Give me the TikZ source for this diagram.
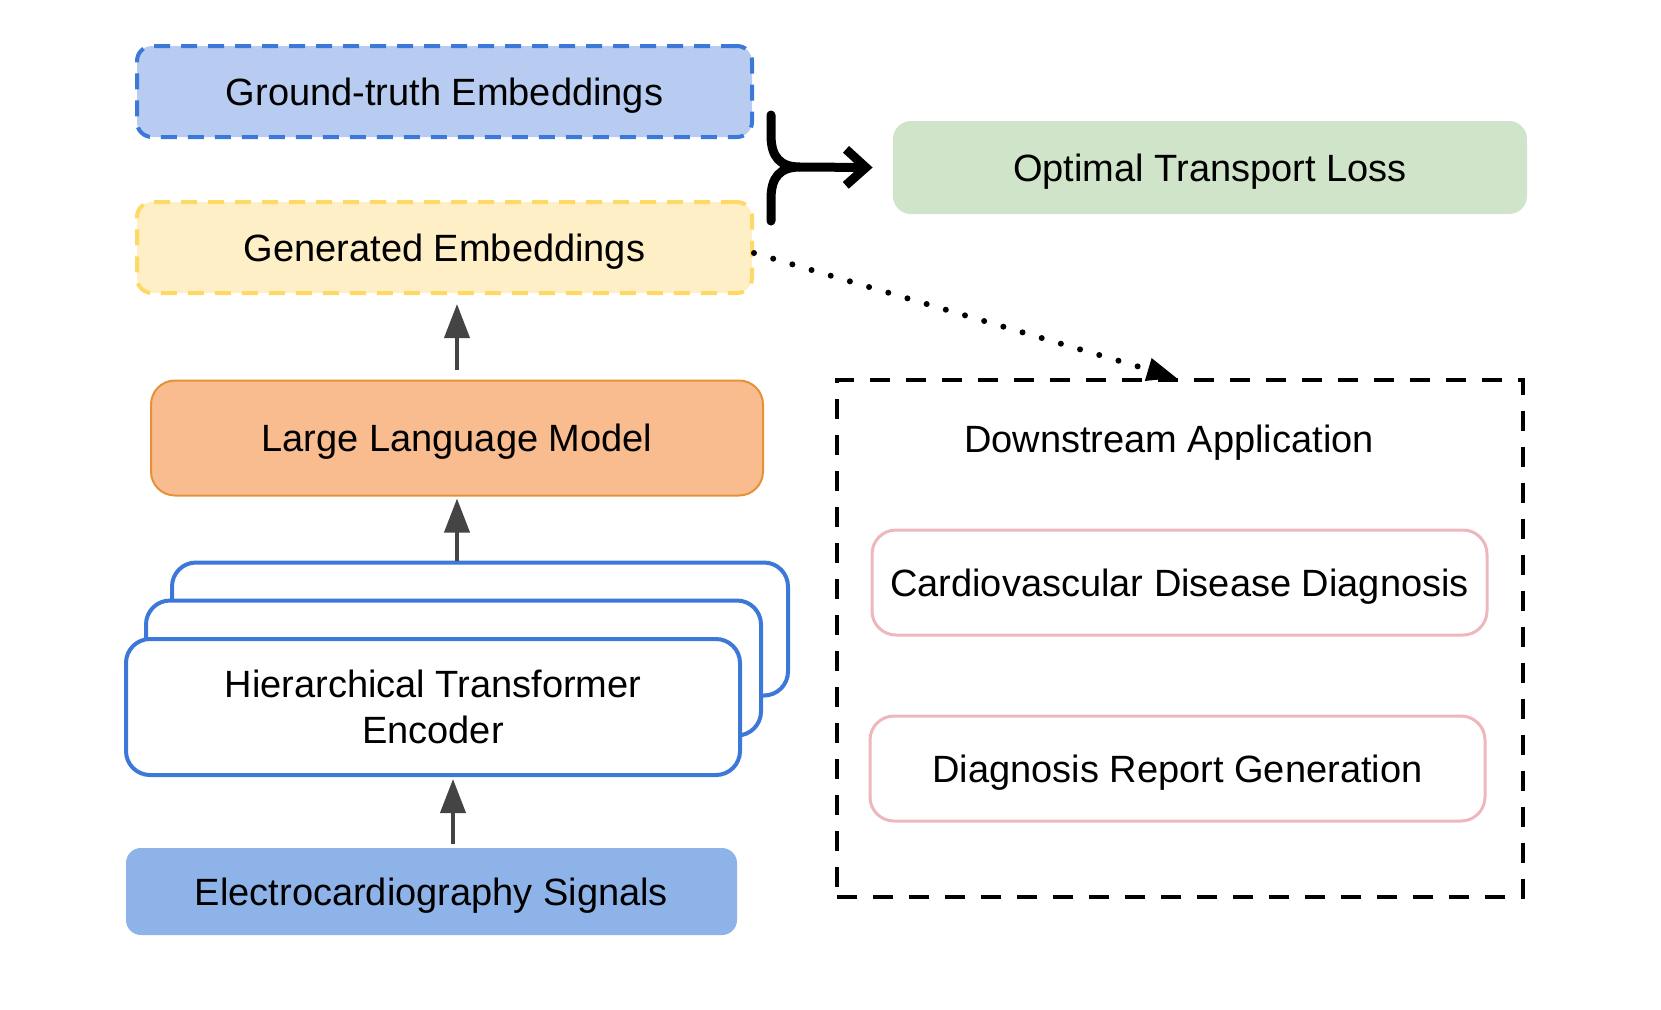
\documentclass[tikz,border=0pt]{standalone}
\usepackage{fontspec}
\setmainfont{Liberation Sans}
\usetikzlibrary{arrows.meta}
\definecolor{gtfill}{HTML}{B7CCF0}
\definecolor{gtdraw}{HTML}{3C78D8}
\definecolor{genfill}{HTML}{FFEFC6}
\definecolor{gendraw}{HTML}{FFD966}
\definecolor{llmfill}{HTML}{F8BC8F}
\definecolor{llmdraw}{HTML}{E69138}
\definecolor{encdraw}{HTML}{3C78D8}
\definecolor{ecgfill}{HTML}{8DB3E9}
\definecolor{optfill}{HTML}{CFE4C8}
\definecolor{pinkdraw}{HTML}{EDB7BB}
\definecolor{arrowgrey}{HTML}{444444}
\begin{document}
\begin{tikzpicture}[x=0.5pt,y=-0.5pt,
  base/.style={inner sep=0pt, align=center, font=\fontsize{19pt}{23pt}\selectfont},
  one/.style={base, text height=13.6pt, text depth=0pt},
  gtbox/.style={one, rounded corners=7.5pt, fill=gtfill, draw=gtdraw, line width=2pt, dash pattern=on 8pt off 5.5pt},
  genbox/.style={one, rounded corners=7.5pt, fill=genfill, draw=gendraw, line width=2pt, dash pattern=on 8pt off 5.5pt},
  llmbox/.style={one, rounded corners=12pt, fill=llmfill, draw=llmdraw, line width=1pt},
  encbox/.style={base, rounded corners=12pt, fill=white, draw=encdraw, line width=2pt},
  ecgbox/.style={one, rounded corners=7.5pt, fill=ecgfill},
  optbox/.style={one, rounded corners=9pt, fill=optfill},
  appbox/.style={one, rounded corners=12pt, draw=pinkdraw, line width=1.5pt},
  dsbox/.style={base, draw=black, line width=2pt, dash pattern=on 10pt off 8pt},
  garrow/.style={draw=arrowgrey, line width=2pt, -{Triangle[length=17pt,width=12.5pt]}},
  dotarrow/.style={draw=black, line width=3pt, line cap=round, dash pattern=on 0pt off 10pt, -{Triangle[length=15pt,width=11pt]}},
  bracket/.style={draw=black, line width=4.5pt, line cap=round},
]
\path[use as bounding box] (0,0) rectangle (1661,1009);

\node[gtbox, minimum width=307.5pt, minimum height=45.5pt] (gt) at (444.5,91.5) {Ground-truth Embeddings};
\node[genbox, minimum width=307.5pt, minimum height=45.5pt] (gen) at (444.5,247.5) {Generated Embeddings};
\node[llmbox, minimum width=306pt, minimum height=57.5pt] (llm) at (457,438) {Large Language Model};
\node[encbox, minimum width=308pt, minimum height=66.5pt] (enc3) at (480,629) {};
\node[encbox, minimum width=307.5pt, minimum height=67.5pt] (enc2) at (453.5,668) {};
\node[encbox, minimum width=307pt, minimum height=68pt] (enc1) at (433,707) {Hierarchical Transformer\\Encoder};
\node[ecgbox, minimum width=305.5pt, minimum height=43.5pt] (ecg) at (431.5,891.5) {Electrocardiography Signals};
\node[optbox, minimum width=317pt, minimum height=46.5pt] (opt) at (1210,167.5) {Optimal Transport Loss};
\node[dsbox, minimum width=343pt, minimum height=258.5pt] (ds) at (1180,638.5) {};
\node[one] (dstext) at (1169,439) {Downstream Application};
\node[appbox, minimum width=307.5pt, minimum height=52.5pt] (cardio) at (1179.5,582.5) {Cardiovascular Disease Diagnosis};
\node[appbox, minimum width=307.5pt, minimum height=52.5pt] (diag) at (1177.5,768.5) {Diagnosis Report Generation};

\draw[garrow, shorten <=5pt, shorten >=4.5pt] (llm.north) -- (llm.north |- gen.south);
\draw[garrow, shorten >=1pt] (llm.south |- enc3.north) -- (llm.south);
\draw[garrow, shorten <=2pt, shorten >=1pt] ([xshift=10.75pt]ecg.north) -- ([xshift=10.75pt]ecg.north |- enc1.south);

\draw[dotarrow] ([yshift=-2.75pt]gen.east) -- ([xshift=-1.5pt]ds.north);

\coordinate (bt) at (771,115);
\coordinate (bb) at (771,221);
\coordinate (bm) at (800,167);
\draw[bracket] (bt) -- (771,135) .. controls (771,157) and (780,167) .. (bm) .. controls (780,167) and (771,177) .. (771,199) -- (bb);
\draw[bracket, -{Straight Barb[length=10pt,width=18pt]}] (bm) -- ([xshift=-10pt]opt.west);
\end{tikzpicture}
\end{document}
